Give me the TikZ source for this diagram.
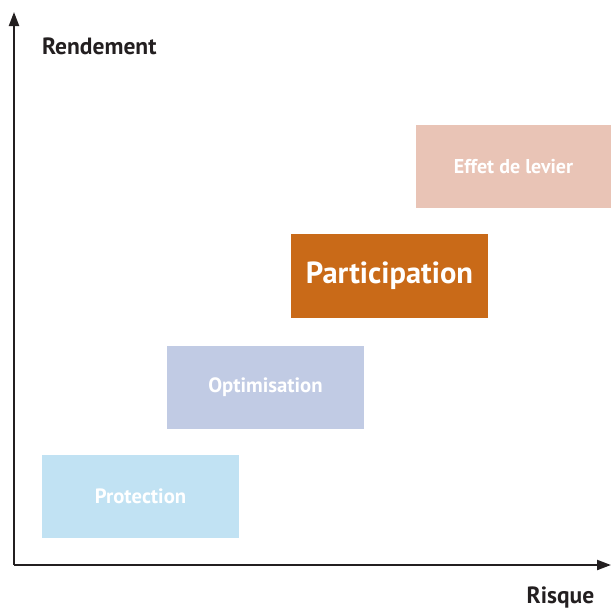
\documentclass[tikz,border=0pt]{standalone}
\usepackage{fontspec}
\setmainfont{PT Sans}
\usetikzlibrary{arrows.meta}
\definecolor{levier}{HTML}{E9C4B6}
\definecolor{partic}{HTML}{C96A18}
\definecolor{optim}{HTML}{C1CBE4}
\definecolor{protec}{HTML}{C1E2F3}
\definecolor{axisc}{HTML}{231F20}
\begin{document}
\begin{tikzpicture}[x=1pt,y=-1pt,
  box/.style={draw=none,minimum width=196pt,minimum height=83pt,inner sep=0pt,text=white,font=\bfseries\fontsize{20.7}{24}\selectfont},
  axislabel/.style={text=axisc,inner sep=0pt,font=\bfseries\fontsize{23.5}{27}\selectfont},
  axisline/.style={draw=axisc,line width=2.2pt,-{Triangle[length=14pt,width=10pt]}}]
\useasboundingbox (0,0) rectangle (611,608);
\coordinate (o) at (14,565);
\coordinate (ytip) at (14,12);
\coordinate (xtip) at (611,565);
\draw[axisline] (o) -- (ytip);
\draw[axisline] (o) -- (xtip);
\node[axislabel,anchor=west] (rend) at (42,46) {Rendement};
\node[axislabel] (risque) at (560.5,597) {Risque};
\node[box,fill=levier,minimum width=195pt,font=\bfseries\fontsize{20}{24}\selectfont] (lev) at (513.5,166.5) {Effet de levier};
\node[box,fill=partic,minimum width=197pt,minimum height=84pt,font=\bfseries\fontsize{30.5}{34}\selectfont] (par) at (389.5,276) {Participation};
\node[box,fill=optim,minimum width=197pt] (opt) at (265.5,387) {Optimisation};
\node[box,fill=protec,minimum width=197pt] (pro) at (140.5,496) {Protection};
\end{tikzpicture}
\end{document}
